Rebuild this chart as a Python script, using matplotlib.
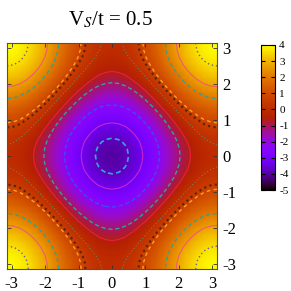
import numpy as np
import matplotlib
matplotlib.use('Agg')
import matplotlib.pyplot as plt

plt.rcParams['font.family'] = ['Liberation Serif', 'DejaVu Serif']
plt.rcParams['mathtext.fontset'] = 'stix'
plt.rcParams['axes.unicode_minus'] = False

# ---- data ----
title_text = r'V$_{S}$/t = 0.5'
k_min, k_max, n_k = -np.pi, np.pi, 33
# separable profile along one axis, k from -pi to 0 (steps of pi/16); field is symmetric
half_profile = [2.00, 1.96, 1.85, 1.66, 1.41, 1.11, 0.77, 0.39, 0.00,
                -0.39, -0.77, -1.11, -1.41, -1.66, -1.85, -1.96, -2.00]
contour_levels = [3.6, 2.7, 2.05, 0.6, 0.8, 0.1, -0.6, -1.1, -2.3, -3.2, -3.75]
contour_colors = ['#6f628f', '#f05a78', '#3c9e86', '#5a2410', '#ffa020', '#6e8458',
                  '#e8203c', '#3aa08c', '#3c4cf0', '#c824d4', '#34a8dc']
contour_styles = [(0, (1, 2)), '-', (0, (3, 2)), (0, (1, 1.5)), (0, (2.5, 2.5)), (0, (1, 2)),
                  '-', (0, (3, 2)), (0, (3, 2)), '-', (0, (3, 2))]
contour_widths = [1.0, 0.8, 1.0, 1.6, 1.0, 0.8, 0.8, 1.0, 1.0, 0.8, 1.2]
xtick_vals = [-3, -2, -1, 0, 1, 2, 3]
ytick_vals = [-3, -2, -1, 0, 1, 2, 3]
cbar_ticks = [-5, -4, -3, -2, -1, 0, 1, 2, 3, 4]
c_min, c_max = -5, 4

# ---- build table ----
p = np.array(half_profile)
profile = np.concatenate([p, p[-2::-1]])
Z = np.add.outer(profile, profile)
k = np.linspace(k_min, k_max, n_k)
KX, KY = np.meshgrid(k, k)

W = H = 291
fig = plt.figure(figsize=(W / 100, H / 100), dpi=100)
ax = fig.add_axes([7 / W, 22 / H, 210 / W, 226 / H])
mesh = ax.pcolormesh(KX, KY, Z, cmap='gnuplot', vmin=c_min, vmax=c_max, shading='gouraud')
for lev, col, ls, lw in zip(contour_levels, contour_colors, contour_styles, contour_widths):
    ax.contour(KX, KY, Z, levels=[lev], colors=[col], linestyles=[ls], linewidths=[lw])
ax.set_xlim(k_min, k_max)
ax.set_ylim(k_min, k_max)
ax.set_xticks(xtick_vals)
ax.set_yticks(ytick_vals)
ax.set_xticklabels([str(v) for v in xtick_vals])
ax.set_yticklabels([str(v) for v in ytick_vals])
ax.tick_params(axis='both', direction='in', length=3, width=0.6, color='#333333',
               labelsize=12, top=True, right=True, left=True, bottom=True,
               labelleft=False, labelright=True)
ax.tick_params(axis='x', pad=5)
ax.tick_params(axis='y', pad=4)
for s in ax.spines.values():
    s.set_linewidth(0.8)
    s.set_color('#555533')

cax = fig.add_axes([261 / W, 101 / H, 14 / W, 145 / H])
cb = fig.colorbar(mesh, cax=cax, ticks=cbar_ticks)
cb.ax.set_yticklabels([str(v) for v in cbar_ticks])
cb.ax.tick_params(direction='in', length=3, width=0.8, labelsize=8, left=True, right=True, pad=3)
cb.outline.set_linewidth(0.8)

fig.text(110 / W, 1 - 20 / H, title_text, ha='center', va='center', fontsize=15)

fig.savefig('out.png', dpi=100)
